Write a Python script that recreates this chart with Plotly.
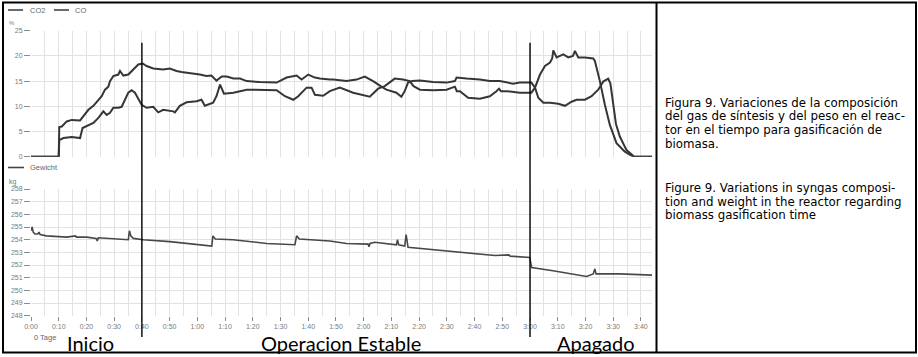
import plotly.graph_objects as go

W, H = 918, 357

# ---------------- data (time in minutes from start) ----------------
co2_t = [0, 10, 10.2, 11.1, 12.9, 14.7, 17.7, 18.9, 20.7, 22.5, 24.3, 25.5, 26.7, 27.9, 28.5,
         29.7, 31.5, 32.1, 33.3, 35.1, 36.9, 38.7, 40.3, 41.7, 44.1, 47.7, 50.1, 52.5, 54.3,
         58.5, 60.9, 63.3, 65.1, 66.9, 68.8, 70.6, 73.0, 75.4, 77.8, 82.6, 88.6, 92.2, 95.8,
         97.6, 100.0, 102.4, 104.2, 107.8, 109, 113.8, 117.4, 120.4, 123.4, 126.4, 128.2, 131.8,
         133.6, 134.8, 136, 137.5, 140.3, 145, 149.9, 152.9, 153.5, 157.1, 161.9, 165.5, 169.1,
         173.9, 176.3, 180.5, 181.8, 183, 184.8, 187.2, 190.2, 192.6, 195, 196.8, 199.8, 202.2,
         204.6, 206.4, 208.2, 209, 210, 211, 212.4, 214.8, 216.6, 217.5, 224]
co2_v = [0, 0, 5.9, 6.0, 7.0, 7.3, 7.2, 8.0, 9.3, 10.1, 11.3, 12.0, 13.3, 13.9, 15.0,
         16.0, 16.3, 17.0, 16.1, 16.3, 17.3, 18.3, 18.5, 18.0, 17.5, 17.3, 17.5, 17.0, 16.8,
         16.5, 16.3, 16.0, 16.1, 15.1, 15.9, 15.9, 15.5, 15.5, 15.0, 14.8, 14.7, 15.7, 16.1,
         15.3, 16.3, 15.7, 15.5, 15.3, 15.3, 15.0, 15.3, 15.9, 15.0, 13.9, 13.3, 12.7,
         11.9, 13.0, 14.7, 15.0, 15.1, 14.8, 14.7, 15.0, 15.7, 15.5, 15.3, 15.0, 15.0,
         14.5, 14.7, 14.7, 13.7, 11.7, 10.7, 10.7, 10.5, 10.1, 10.9, 11.3, 11.3, 12.0,
         13.3, 14.9, 15.5, 14.5, 10.0, 6.5, 4.0, 1.3, 0.5, 0, 0]

co_t = [0, 10, 10.2, 11.7, 14.7, 17.7, 18.6, 20.1, 22.5, 24.3, 26.1, 27.3, 28.5, 29.7, 31.5,
        32.7, 33.9, 35.1, 36.3, 37.5, 38.7, 39.9, 41.7, 44.1, 45.9, 47.7, 51.3, 51.9, 53.7,
        56.1, 59.7, 61.5, 62.7, 65.7, 66.9, 68.2, 69.6, 73.0, 77.8, 83.8, 88.6, 91.6, 94.6,
        96.4, 99.4, 101.2, 102.4, 105.4, 107.8, 111.4, 116.2, 122.2, 125.2, 127.6, 129.4,
        131.2, 134.2, 136.6, 138, 140.3, 145, 149.9, 152.9, 153.6, 154.7, 157.7, 161.9, 165.5,
        167.9, 168.8, 169.5, 171.5, 176.3, 180.5, 181.8, 183.6, 185.4, 187.2, 188.0, 188.4,
        189.6, 192, 193.8, 195.5, 196.2, 197.4, 199.8, 202.8, 203.4, 205.2, 207, 208.8, 211.2,
        214.2, 216.6, 217.5, 224]
co_v = [0, 0, 3.3, 3.7, 3.9, 3.7, 5.7, 6.1, 6.7, 7.7, 9.0, 8.3, 8.7, 9.7, 9.7,
        9.9, 11.3, 12.7, 13.2, 12.7, 11.5, 10.3, 9.7, 9.9, 8.8, 9.3, 9.0, 8.8, 10.1,
        10.8, 11.0, 11.3, 10.1, 10.7, 12.0, 14.3, 12.5, 12.7, 13.3, 13.3, 13.2, 12.0, 11.3,
        12.0, 13.7, 13.7, 12.3, 12.1, 13.0, 13.7, 12.7, 11.9, 13.5, 14.0, 14.7,
        15.5, 15.3, 15.0, 14.0, 13.3, 13.2, 13.3, 13.9, 13.0, 13.0, 11.7, 11.5, 12.0,
        13.0, 13.5, 13.0, 13.0, 12.7, 12.7, 13.7, 16.3, 18.0, 18.7, 19.5, 21.1,
        19.7, 20.3, 19.7, 20.0, 21.0, 19.7, 19.7, 19.5, 19.0, 15.0, 10.3, 6.3, 2.7,
        1.0, 0.2, 0, 0]

w_t = [0, 0.4, 0.8, 1.4, 2.5, 2.9, 3.3, 5.6, 12.9, 16, 16.4, 20.1, 23.5, 23.9, 24.3, 30,
       35.1, 35.5, 36.0, 36.9, 40.5, 50.1, 58.5, 65.2, 65.6, 66.5, 72.9, 85, 95.2, 95.8,
       96.8, 107.8, 113.8, 121.6, 121.9, 122.3, 124, 131.8, 132.2, 132.6, 134.8, 135.3,
       136, 142.7, 152.3, 160.1, 167.3, 172.4, 172.8, 179.9, 180.6, 188.3, 200.4, 202.8,
       203.4, 203.8, 212.4, 224]
w_v = [254.7, 255.0, 254.6, 254.45, 254.45, 254.6, 254.4, 254.3, 254.2, 254.3, 254.2, 254.2,
       254.1, 253.9, 254.15, 254.1, 254.0, 254.7, 254.3, 254.1, 254.0, 253.85, 253.65, 253.5,
       254.3, 254.05, 254.0, 253.7, 253.6, 254.3, 254.05, 253.9, 253.7, 253.65, 253.45,
       253.7, 253.8, 253.6, 254.0, 253.6, 253.5, 254.4, 253.4, 253.25, 253.05, 252.9,
       252.75, 252.8, 252.7, 252.6, 251.8, 251.55, 251.1, 251.3, 251.7, 251.3, 251.3, 251.2]

x_tick_vals = [0, 10, 20, 30, 40, 50, 60, 70, 80, 90, 100, 110, 120, 130, 140, 150, 160,
               170, 180, 190, 200, 210, 220]
x_tick_text = ["0:00", "0:10", "0:20", "0:30", "0:40", "0:50", "1:00", "1:10", "1:20",
               "1:30", "1:40", "1:50", "2:00", "2:10", "2:20", "2:30", "2:40", "2:50",
               "3:00", "3:10", "3:20", "3:30", "3:40"]

phase_marks = [40, 180]
phase_names = ["Inicio", "Operacion Estable", "Apagado"]
phase_centres = [21.6, 111.8, 203.7]

series_names = ["CO2", "CO", "Gewicht"]
unit_top, unit_bottom, day_label = "%", "kg", "0 Tage"

caption_lines = [
    "Figura 9. Variaciones de la composición",
    "del gas de síntesis y del peso en el reac-",
    "tor en el tiempo para gasificación de",
    "biomasa.",
    "Figure 9. Variations in syngas composi-",
    "tion and weight in the reactor regarding",
    "biomass gasification time",
]
caption_y = [103, 116.5, 130, 143.5, 188, 201.5, 215]


def px(x):
    return x / W


def py(y):
    return 1 - y / H


LINE = "#363636"
GRID = "#e2e2e2"
TICKC = "#8a8a8a"
TFONT = dict(family="Liberation Sans, Arial, sans-serif", size=7, color="#7a7a7a")

fig = go.Figure()
fig.add_trace(go.Scatter(x=co2_t, y=co2_v, mode="lines", name=series_names[0],
                         line=dict(color=LINE, width=2), xaxis="x", yaxis="y"))
fig.add_trace(go.Scatter(x=co_t, y=co_v, mode="lines", name=series_names[1],
                         line=dict(color=LINE, width=2), xaxis="x", yaxis="y"))
fig.add_trace(go.Scatter(x=w_t, y=w_v, mode="lines", name=series_names[2],
                         line=dict(color="#484848", width=1.6), xaxis="x2", yaxis="y2"))

xdom = [px(31), px(652)]
common_x = dict(domain=xdom, range=[0, 224], showline=False, zeroline=False,
                automargin=False,
                showgrid=True, gridcolor=GRID, gridwidth=1,
                minor=dict(tickmode="linear", tick0=0, dtick=5, showgrid=True,
                           gridcolor=GRID, gridwidth=1, ticks=""))

fig.update_layout(
    width=W, height=H, margin=dict(l=0, r=0, t=0, b=0, pad=0, autoexpand=False),
    paper_bgcolor="white", plot_bgcolor="white", showlegend=False,
    xaxis=dict(**common_x, anchor="y", tickmode="array", tickvals=x_tick_vals,
               showticklabels=False, ticks=""),
    yaxis=dict(domain=[py(156.7), py(30.7)], range=[0, 25], tickmode="linear", tick0=0,
               dtick=5, showgrid=True, gridcolor=GRID, zeroline=False, ticks="outside",
               ticklen=6, tickcolor=TICKC, tickfont=TFONT, anchor="x", automargin=False),
    xaxis2=dict(**common_x, anchor="y2", matches="x", tickmode="array",
                tickvals=x_tick_vals, ticktext=x_tick_text, ticks="outside",
                ticklen=4, tickcolor=TICKC, tickfont=TFONT),
    yaxis2=dict(domain=[py(315.7), py(189)], range=[248, 258], tickmode="linear",
                tick0=248, dtick=1, showgrid=True, gridcolor=GRID, zeroline=False,
                ticks="outside", ticklen=6, tickcolor=TICKC, tickfont=TFONT, anchor="x2",
                automargin=False),
)

shapes = []
# phase separators
for m in phase_marks:
    shapes.append(dict(type="line", xref="x2", yref="paper", x0=m, x1=m,
                       y0=py(337), y1=py(42.7), line=dict(color="black", width=1.4)))
# frame
shapes.append(dict(type="rect", xref="paper", yref="paper", x0=px(3), x1=px(916),
                   y0=py(352.5), y1=py(2.5), line=dict(color="black", width=2)))
shapes.append(dict(type="line", xref="paper", yref="paper", x0=px(656.5), x1=px(656.5),
                   y0=py(352.5), y1=py(2.5), line=dict(color="black", width=2)))
# legend samples
for (x0, x1, y) in [(8, 23, 10), (54, 69, 10), (8, 24, 167.5)]:
    shapes.append(dict(type="line", xref="paper", yref="paper", x0=px(x0), x1=px(x1),
                       y0=py(y), y1=py(y), line=dict(color="#444", width=1.6)))
fig.update_layout(shapes=shapes)

ann = []
LFONT = dict(family="Liberation Sans, Arial, sans-serif", size=7.5, color="#666")
for name, x, y in [(series_names[0], 28, 10), (series_names[1], 73, 10),
                   (series_names[2], 28, 167.5)]:
    ann.append(dict(text=name, xref="paper", yref="paper", x=px(x), y=py(y),
                    xanchor="left", yanchor="middle", showarrow=False, font=LFONT))
ann.append(dict(text=unit_top, xref="paper", yref="paper", x=px(7), y=py(23),
                xanchor="left", yanchor="middle", showarrow=False,
                font=dict(family="Liberation Sans", size=6, color="#777")))
ann.append(dict(text=unit_bottom, xref="paper", yref="paper", x=px(7), y=py(182),
                xanchor="left", yanchor="middle", showarrow=False,
                font=dict(family="Liberation Sans", size=7, color="#777")))
ann.append(dict(text=day_label, xref="paper", yref="paper", x=px(32), y=py(337),
                xanchor="left", yanchor="middle", showarrow=False, font=LFONT))
for name, c in zip(phase_names, phase_centres):
    ann.append(dict(text=name, xref="x2", yref="paper", x=c, y=py(343),
                    xanchor="center", yanchor="middle", showarrow=False,
                    font=dict(family="Lato, Open Sans, sans-serif", size=20, color="black")))
for line, y in zip(caption_lines, caption_y):
    ann.append(dict(text=line, xref="paper", yref="paper", x=px(663), y=py(y),
                    xanchor="left", yanchor="middle", showarrow=False,
                    font=dict(family="DejaVu Sans, sans-serif", size=11.8, color="black")))
fig.update_layout(annotations=ann)

fig.write_html("out.html", config={"displayModeBar": False},
               post_script="document.body.style.margin='0';"
                           "document.body.style.overflow='hidden';")
